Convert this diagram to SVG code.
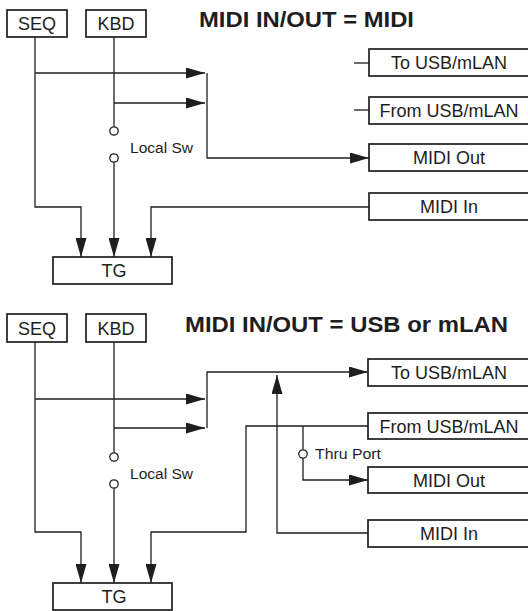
<svg xmlns="http://www.w3.org/2000/svg" width="528" height="611" viewBox="0 0 528 611">
<style>
.box{fill:#fff;stroke:#1e1e1e;stroke-width:1.7}
.lbl{font-family:"Liberation Sans",Arial,sans-serif;font-size:18px;fill:#1e1e1e;text-anchor:middle}
.sm{font-family:"Liberation Sans",Arial,sans-serif;font-size:15.5px;fill:#1e1e1e}
.title{font-family:"Liberation Sans",Arial,sans-serif;font-size:21.5px;font-weight:bold;fill:#1e1e1e}
.ln{fill:none;stroke:#1e1e1e;stroke-width:1.3}
.arr{fill:none;stroke:#1e1e1e;stroke-width:1.3;marker-end:url(#ah)}
.sw{fill:#fff;stroke:#1e1e1e;stroke-width:1.3}
</style>
<defs>
<marker id="ah" markerUnits="userSpaceOnUse" markerWidth="19" markerHeight="11" refX="19" refY="5.5" orient="auto">
<path d="M0 0 L19 5.5 L0 11 Z" fill="#1e1e1e"/>
</marker>
</defs>
<rect width="528" height="611" fill="#fff"/>

<!-- Top diagram -->
<text class="title" x="199" y="27" textLength="215" lengthAdjust="spacingAndGlyphs">MIDI IN/OUT = MIDI</text>
<g id="connectors-top">
<path class="arr" d="M35 37 V207 H81 V257"/>
<path class="arr" d="M35 73 H205"/>
<path class="ln" d="M114 37 V126.8"/>
<path class="arr" d="M114 162.2 V257"/>
<path class="arr" d="M114 103 H205"/>
<path class="arr" d="M207 73 V158 H369"/>
<path class="arr" d="M369 207 H151 V257"/>
<path class="ln" d="M354 63 H369"/>
<path class="ln" d="M354 110 H369"/>
</g>
<g id="localsw-top">
<circle class="sw" cx="114" cy="131" r="4.2"/>
<circle class="sw" cx="114" cy="158" r="4.2"/>
<text class="sm" x="130" y="153" textLength="63" lengthAdjust="spacingAndGlyphs">Local Sw</text>
</g>
<g id="seq-top"><rect class="box" x="7" y="10" width="60" height="27"/><text class="lbl" x="37" y="30">SEQ</text></g>
<g id="kbd-top"><rect class="box" x="86" y="10" width="60" height="27"/><text class="lbl" x="116" y="30">KBD</text></g>
<g id="tg-top"><rect class="box" x="53" y="257" width="119" height="27"/><text class="lbl" x="114" y="277">TG</text></g>
<g id="tousb-top"><rect class="box" x="369" y="49" width="170" height="27"/><text class="lbl" x="449" y="69">To USB/mLAN</text></g>
<g id="fromusb-top"><rect class="box" x="369" y="97" width="170" height="27"/><text class="lbl" x="449" y="117">From USB/mLAN</text></g>
<g id="midiout-top"><rect class="box" x="369" y="144" width="170" height="27"/><text class="lbl" x="449" y="164">MIDI Out</text></g>
<g id="midiin-top"><rect class="box" x="369" y="193" width="170" height="27"/><text class="lbl" x="449" y="213">MIDI In</text></g>

<!-- Bottom diagram -->
<text class="title" x="185" y="332" textLength="323" lengthAdjust="spacingAndGlyphs">MIDI IN/OUT = USB or mLAN</text>
<g id="connectors-bottom">
<path class="arr" d="M35 342 V532 H81 V583"/>
<path class="arr" d="M35 399 H205"/>
<path class="ln" d="M114 342 V452.8"/>
<path class="arr" d="M114 488.2 V583"/>
<path class="arr" d="M114 428 H205"/>
<path class="arr" d="M207 428 V372 H368"/>
<path class="arr" d="M368 533 H277 V375"/>
<path class="arr" d="M368 426 H246 V532 H151 V583"/>
<path class="ln" d="M303 426 V449.8"/>
<path class="arr" d="M303 458.2 V480 H368"/>
</g>
<g id="localsw-bottom">
<circle class="sw" cx="114" cy="457" r="4.2"/>
<circle class="sw" cx="114" cy="484" r="4.2"/>
<text class="sm" x="130" y="479" textLength="63" lengthAdjust="spacingAndGlyphs">Local Sw</text>
</g>
<g id="thruport">
<circle class="sw" cx="303" cy="454" r="4.2"/>
<text class="sm" x="315" y="459" textLength="66" lengthAdjust="spacingAndGlyphs">Thru Port</text>
</g>
<g id="seq-bottom"><rect class="box" x="7" y="314" width="60" height="28"/><text class="lbl" x="37" y="334.5">SEQ</text></g>
<g id="kbd-bottom"><rect class="box" x="86" y="314" width="60" height="28"/><text class="lbl" x="116" y="334.5">KBD</text></g>
<g id="tg-bottom"><rect class="box" x="53" y="583" width="119" height="27"/><text class="lbl" x="114" y="603">TG</text></g>
<g id="tousb-bottom"><rect class="box" x="368" y="359" width="171" height="27"/><text class="lbl" x="449" y="379">To USB/mLAN</text></g>
<g id="fromusb-bottom"><rect class="box" x="368" y="413" width="171" height="26"/><text class="lbl" x="449" y="432.5">From USB/mLAN</text></g>
<g id="midiout-bottom"><rect class="box" x="368" y="467" width="171" height="26"/><text class="lbl" x="449" y="486.5">MIDI Out</text></g>
<g id="midiin-bottom"><rect class="box" x="368" y="520" width="171" height="27"/><text class="lbl" x="449" y="540">MIDI In</text></g>
</svg>
